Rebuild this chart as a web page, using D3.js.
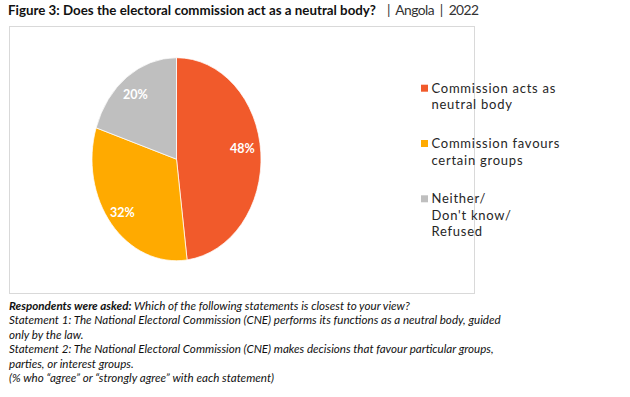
<!DOCTYPE html>
<html>
<head>
<meta charset="utf-8">
<script src="https://cdn.jsdelivr.net/npm/d3@7"></script>
<style>
body { margin: 0; background: #fff; }
svg { display: block; font-family: Lato, "Open Sans", sans-serif; }
</style>
</head>
<body>
<script>
var categories = ["Commission acts as neutral body", "Commission favours certain groups", "Neither/ Don't know/ Refused"],
	legendLines = [["Commission acts as", "neutral body"], ["Commission favours", "certain groups"], ["Neither/", "Don't know/", "Refused"]],
	values = [48, 32, 20],
	colors = ["#F15A2B", "#FFAA00", "#BFBFBF"];

var titleMain = "Figure 3: Does the electoral commission act as a neutral body?",
	titleRest = "|  Angola  |  2022";

var noteLines = [
	[{b: "Respondents were asked:"}, {t: " Which of the following statements is closest to your view?"}],
	[{t: "Statement 1: The National Electoral Commission (CNE) performs its functions as a neutral body, guided"}],
	[{t: "only by the law."}],
	[{t: "Statement 2: The National Electoral Commission (CNE) makes decisions that favour particular groups,"}],
	[{t: "parties, or interest groups."}],
	[{t: "(% who \u201cagree\u201d or \u201cstrongly agree\u201d with each statement)"}]
];

var width = 630, height = 397;

var svg = d3.select("body").append("svg")
	.attr("width", width)
	.attr("height", height);

// title
svg.append("text")
	.attr("x", 8)
	.attr("y", 15)
	.attr("textLength", 368)
	.attr("lengthAdjust", "spacingAndGlyphs")
	.style("font-size", "14px")
	.style("font-weight", "bold")
	.style("fill", "#111")
	.text(titleMain);

svg.append("text")
	.attr("x", 387)
	.attr("y", 15)
	.attr("textLength", 92)
	.style("font-size", "13.8px")
	.style("fill", "#333")
	.style("white-space", "pre")
	.text(titleRest);

// frame
svg.append("rect")
	.attr("x", 9.5)
	.attr("y", 26.5)
	.attr("width", 465)
	.attr("height", 267)
	.attr("fill", "none")
	.attr("stroke", "#d9d9d9");

// pie (slightly taller than wide, as in the original)
var cx = 176.5, cy = 159.2, rx = 84.5, ry = 101.5;

var pie = d3.pie().sort(null).value(function (d) { return d; });
var arcs = pie(values);
var arc = d3.arc().innerRadius(0).outerRadius(ry);

var gp = svg.append("g")
	.attr("transform", "translate(" + cx + "," + cy + ")");

gp.append("g")
	.attr("transform", "scale(" + (rx / ry) + ",1)")
	.selectAll("path")
	.data(arcs)
	.enter().append("path")
	.attr("d", arc)
	.attr("fill", function (d, i) { return colors[i]; })
	.attr("stroke", "#fff")
	.attr("stroke-width", 0.8);

gp.selectAll(".lbl")
	.data(arcs)
	.enter().append("text")
	.attr("class", "lbl")
	.attr("x", function (d, i) { return Math.sin((d.startAngle + d.endAngle) / 2) * rx * (i === 0 ? 0.78 : 0.83); })
	.attr("y", function (d, i) { return -Math.cos((d.startAngle + d.endAngle) / 2) * ry * 0.8 + (i === 0 ? -5 : 1.5); })
	.attr("dy", ".35em")
	.attr("text-anchor", "middle")
	.style("font-size", "12.5px")
	.style("font-weight", "bold")
	.style("fill", "#fff")
	.text(function (d) { return d.data + "%"; });

// legend
var legend = svg.selectAll(".legend")
	.data(legendLines)
	.enter().append("g")
	.attr("class", "legend")
	.attr("transform", function (d, i) { return "translate(421," + [92.7, 148, 203.3][i] + ")"; });

legend.append("rect")
	.attr("y", -8)
	.attr("width", 7)
	.attr("height", 7)
	.attr("fill", function (d, i) { return colors[i]; });

legend.append("text")
	.style("font-size", "13px")
	.style("letter-spacing", "0.75px")
	.style("fill", "#262626")
	.selectAll("tspan")
	.data(function (d) { return d; })
	.enter().append("tspan")
	.attr("x", 10.5)
	.attr("y", function (d, i) { return i * 16.6; })
	.text(function (d) { return d; });

// note below the chart
var note = svg.append("g")
	.attr("transform", "translate(9,0)");

note.selectAll("text")
	.data(noteLines)
	.enter().append("text")
	.attr("y", function (d, i) { return 309.5 + i * 14.5; })
	.style("font-size", "11.6px")
	.style("font-style", "italic")
	.style("fill", "#111")
	.each(function (d) {
		var t = d3.select(this);
		d.forEach(function (p) {
			t.append("tspan")
				.style("font-weight", p.b ? "bold" : "normal")
				.text(p.b || p.t);
		});
	});
</script>
</body>
</html>
